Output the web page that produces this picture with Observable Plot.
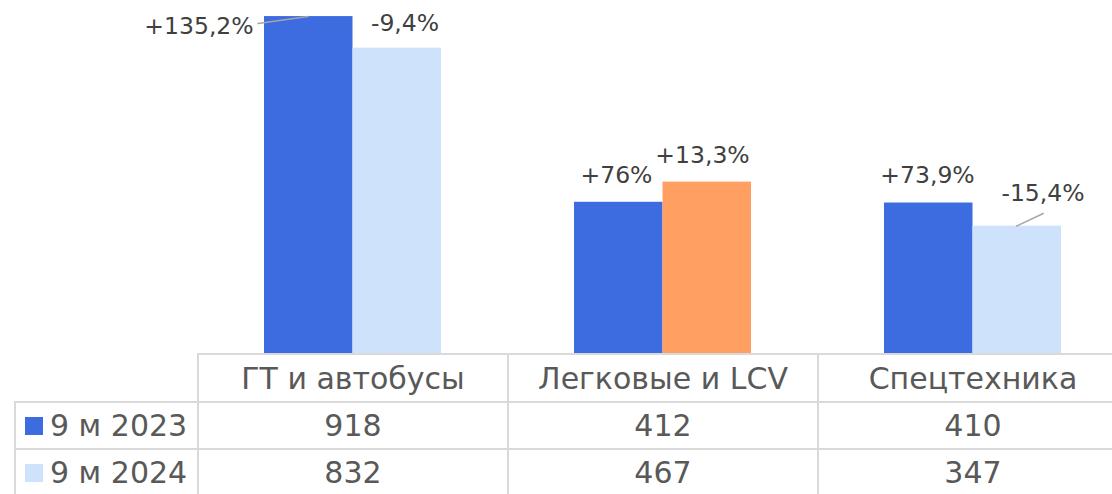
<!DOCTYPE html>
<html>
<head>
<meta charset="utf-8">
<script src="https://cdn.jsdelivr.net/npm/d3@7"></script>
<script src="https://cdn.jsdelivr.net/npm/@observablehq/plot@0.6"></script>
<style>
  html, body { margin: 0; padding: 0; background: #ffffff; }
  body { font-family: "DejaVu Sans", sans-serif; width: 1112px; height: 494px; overflow: hidden; }
  #chart svg { display: block; }
  #table { position: relative; width: 1112px; height: 141px; overflow: hidden; color: #595959; font-size: 30px; }
  .cell { position: absolute; box-sizing: border-box; border-left: 2px solid #d9d9d9; border-top: 2px solid #d9d9d9;
          display: flex; align-items: center; justify-content: center; white-space: nowrap; }
  .lab { justify-content: flex-start; padding-left: 9px; }
  .sw { display: inline-block; width: 18px; height: 18px; margin-right: 7px; }
</style>
</head>
<body>
<div id="chart"></div>
<div id="table"></div>
<script>
// ---- data ----
const categories = ["ГТ и автобусы", "Легковые и LCV", "Спецтехника"];
const series = ["9 м 2023", "9 м 2024"];
const values2023 = [918, 412, 410];
const values2024 = [832, 467, 347];
const changes2023 = ["+135,2%", "+76%", "+73,9%"];
const changes2024 = ["-9,4%", "+13,3%", "-15,4%"];

// ---- styles / layout ----
const blue = "#3d6be0", light = "#cfe2fc", orange = "#ffa062";
const labelColor = "#404040";
// label offsets (pixels) relative to the category center and bar top
const offsets2023 = [[-153.5, 9.5], [-46, -27], [-45, -28]];
const offsets2024 = [[52.5, -24.6], [40, -27], [70.5, -32.5]];

const rows2023 = categories.map((c, i) => ({cat: c, value: values2023[i], label: changes2023[i], i}));
const rows2024 = categories.map((c, i) => ({cat: c, value: values2024[i], label: changes2024[i], i}));

const labelMarks = [];
rows2023.forEach((d, i) => labelMarks.push(Plot.text([d], {
  x: "cat", y: "value", text: "label", dx: offsets2023[i][0], dy: offsets2023[i][1],
  fill: labelColor, fontSize: 23.5, lineAnchor: "middle"
})));
rows2024.forEach((d, i) => labelMarks.push(Plot.text([d], {
  x: "cat", y: "value", text: "label", dx: offsets2024[i][0], dy: offsets2024[i][1],
  fill: labelColor, fontSize: 23.5, lineAnchor: "middle"
})));

const chart = Plot.plot({
  width: 1112,
  height: 353,
  marginTop: 0, marginBottom: 0, marginLeft: 0, marginRight: 0,
  style: {fontFamily: "DejaVu Sans", background: "#ffffff", overflow: "visible"},
  x: {domain: categories, range: [197, 1127], padding: 0, axis: null},
  y: {domain: [0, 961.8], range: [353, 0], axis: null},
  color: {type: "identity"},
  marks: [
    Plot.barY(rows2023, {x: "cat", y: "value", fill: blue, insetLeft: 67, insetRight: 154.5}),
    Plot.barY(rows2024, {x: "cat", y: "value", fill: d => d.i === 1 ? orange : light, insetLeft: 155.5, insetRight: 66}),
    Plot.vector([rows2023[0]], {x: "cat", y: "value", dx: -44.5, length: 50.5, rotate: 262, anchor: "start",
      stroke: "#a6a6a6", strokeWidth: 1.5, r: 0}),
    Plot.vector([rows2024[2]], {x: "cat", y: "value", dx: 44, length: 29.6, rotate: 64.6, anchor: "start",
      stroke: "#a6a6a6", strokeWidth: 1.5, r: 0}),
    ...labelMarks
  ]
});
document.getElementById("chart").appendChild(chart);

// ---- data table below the chart ----
const table = document.getElementById("table");
function cell(left, top, width, height, cls) {
  const el = document.createElement("div");
  el.className = "cell" + (cls ? " " + cls : "");
  el.style.left = left + "px"; el.style.top = top + "px";
  el.style.width = width + "px"; el.style.height = height + "px";
  table.appendChild(el);
  return el;
}
categories.forEach((c, i) => { cell(197 + 310 * i, 0, 310, 48).textContent = c; });
const tableValues = [values2023, values2024];
const swatches = [blue, light];
series.forEach((s, r) => {
  const top = 48 + 47 * r;
  const lab = cell(14, top, 183, 47, "lab");
  const sw = document.createElement("span");
  sw.className = "sw"; sw.style.background = swatches[r];
  lab.appendChild(sw);
  lab.appendChild(document.createTextNode(s));
  categories.forEach((c, i) => { cell(197 + 310 * i, top, 310, 47).textContent = tableValues[r][i]; });
});
</script>
</body>
</html>
